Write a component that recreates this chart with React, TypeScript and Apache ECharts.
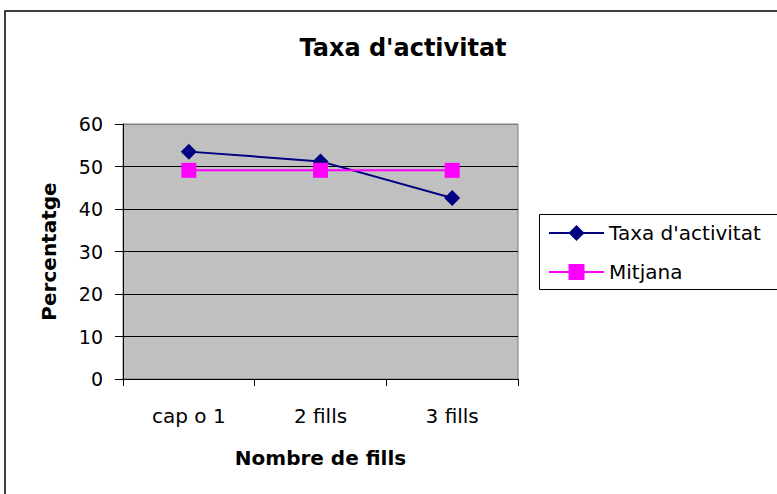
import React, { useEffect, useRef } from "react";
import * as echarts from "echarts";

const categories = ["cap o 1", "2 fills", "3 fills"];
const taxaValues = [53.5, 51.2, 42.6];
const mitjanaValues = [49.1, 49.1, 49.1];
const seriesNames = ["Taxa d'activitat", "Mitjana"];
const chartTitle = "Taxa d'activitat";
const xAxisName = "Nombre de fills";
const yAxisName = "Percentatge";

const FONT = "DejaVu Sans";

export default function App() {
  const ref = useRef<HTMLDivElement>(null);
  useEffect(() => {
    if (!ref.current) return;
    const chart = echarts.init(ref.current, null, { renderer: "svg" });
    chart.setOption({
      animation: false,
      backgroundColor: "#ffffff",
      textStyle: { fontFamily: FONT },
      title: {
        text: chartTitle,
        left: 398,
        top: 31,
        textAlign: "center",
        textStyle: { fontFamily: FONT, fontSize: 24, fontWeight: "bold", color: "#000" },
      },
      graphic: [
        {
          type: "rect",
          z: -10,
          shape: { x: 5, y: 11, width: 820, height: 520 },
          style: { fill: "#ffffff", stroke: "#000", lineWidth: 1.5 },
        },
        {
          type: "rect",
          z: -5,
          shape: { x: 539.5, y: 214.5, width: 260, height: 75 },
          style: { fill: "#ffffff", stroke: "#000", lineWidth: 1 },
        },
      ],
      legend: {
        orient: "vertical",
        left: 548,
        top: 223,
        padding: 0,
        itemWidth: 55,
        itemHeight: 20,
        itemGap: 19,
        textStyle: { fontFamily: FONT, fontSize: 20, color: "#000" },
        data: seriesNames,
      },
      grid: {
        left: 123,
        top: 124,
        width: 395,
        height: 255,
        show: true,
        backgroundColor: "#c0c0c0",
        borderColor: "#808080",
        borderWidth: 1,
      },
      xAxis: {
        type: "category",
        data: categories,
        boundaryGap: true,
        name: xAxisName,
        nameLocation: "middle",
        nameGap: 69,
        nameTextStyle: { fontFamily: FONT, fontSize: 20, fontWeight: "bold", color: "#000" },
        axisLine: { lineStyle: { color: "#000", width: 1 } },
        axisTick: { show: true, length: 7, lineStyle: { color: "#000" } },
        axisLabel: { margin: 27, fontFamily: FONT, fontSize: 20, color: "#000" },
        splitLine: { show: false },
      },
      yAxis: {
        type: "value",
        min: 0,
        max: 60,
        interval: 10,
        name: yAxisName,
        nameLocation: "middle",
        nameGap: 64,
        nameTextStyle: { fontFamily: FONT, fontSize: 20, fontWeight: "bold", color: "#000" },
        axisLine: { show: true, lineStyle: { color: "#000", width: 1 } },
        axisTick: { show: true, length: 8, lineStyle: { color: "#000" } },
        axisLabel: { margin: 20, fontFamily: FONT, fontSize: 19, color: "#000" },
        splitLine: {
          show: true,
          lineStyle: { color: ["#000", "#000", "#000", "#000", "#000", "#000", "#808080"], width: 1 },
        },
      },
      series: [
        {
          name: seriesNames[0],
          type: "line",
          data: taxaValues,
          symbol: "diamond",
          symbolSize: 16,
          lineStyle: { color: "#000080", width: 2 },
          itemStyle: { color: "#000080" },
        },
        {
          name: seriesNames[1],
          type: "line",
          data: mitjanaValues,
          symbol: "rect",
          symbolSize: 15,
          lineStyle: { color: "#ff00ff", width: 2 },
          itemStyle: { color: "#ff00ff" },
        },
      ],
    });
    return () => chart.dispose();
  }, []);
  return (
    <div
      ref={ref}
      style={{ position: "absolute", left: 0, top: 0, width: 777, height: 494 }}
    />
  );
}
